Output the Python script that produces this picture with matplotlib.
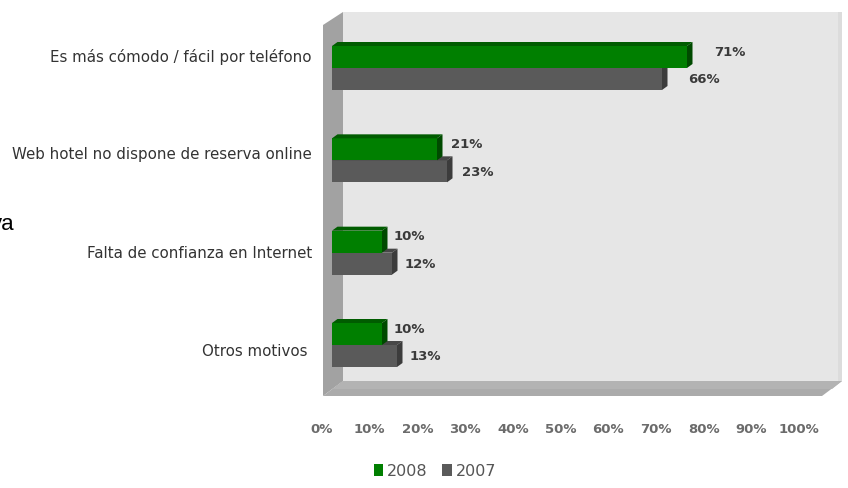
import numpy as np
import matplotlib.pyplot as plt
from matplotlib.patches import Polygon

categorias = ["Es más cómodo / fácil por teléfono",
              "Web hotel no dispone de reserva online",
              "Falta de confianza en Internet",
              "Otros motivos "]
v2008 = [71, 21, 10, 10]
v2007 = [66, 23, 12, 13]
ticks = [0, 10, 20, 30, 40, 50, 60, 70, 80, 90, 100]

W, H = 848, 488
fig = plt.figure(figsize=(W / 100, H / 100), dpi=100)


def rect(x0, y0, x1, y1):
    # pixel box (top-left origin) -> figure fraction
    return [x0 / W, 1 - y1 / H, (x1 - x0) / W, (y1 - y0) / H]


# back wall, side wall and floor of the 3d box
bg = fig.add_axes([0, 0, 1, 1], zorder=-1)
bg.set_xlim(0, W)
bg.set_ylim(H, 0)
bg.axis('off')
bg.add_patch(Polygon([(343, 12), (842, 12), (842, 381), (343, 381)],
                     fc='#e6e6e6', ec='none'))
bg.add_patch(Polygon([(838, 12), (842, 12), (842, 381), (838, 381)],
                     fc='#dcdcdc', ec='none'))
bg.add_patch(Polygon([(323, 25), (343, 12), (343, 381), (323, 396)],
                     fc='#a2a2a2', ec='none'))
bg.add_patch(Polygon([(323, 396), (343, 381), (842, 381), (822, 396)],
                     fc='#ababab', ec='none'))
bg.add_patch(Polygon([(333, 389), (343, 381), (842, 381), (832, 389)],
                     fc='#b3b3b3', ec='none'))

# bars
ax = fig.add_axes(rect(332, 12, 832, 381))
ax.set_xlim(0, 100)
ax.set_ylim(3 + 36 / 92.33, -56 / 92.33)
ax.axis('off')

y = np.arange(len(categorias))
h = 22 / 92.33
dx, dy = 1.1, -4 / 92.33


def bar3d(ys, vals, front, top, side, z):
    bars = ax.barh(ys, vals, height=h, color=front, linewidth=0, zorder=z)
    for yc, v in zip(ys, vals):
        y0, y1 = yc - h / 2, yc + h / 2
        ax.add_patch(Polygon([(0, y0), (v, y0), (v + dx, y0 + dy), (dx, y0 + dy)],
                             fc=top, ec='none', zorder=z, clip_on=False))
        ax.add_patch(Polygon([(v, y0), (v, y1), (v + dx, y1 + dy), (v + dx, y0 + dy)],
                             fc=side, ec='none', zorder=z, clip_on=False))
    return bars


b07 = bar3d(y + h / 2, v2007, '#5a5a5a', '#474747', '#3c3c3c', 2)
b08 = bar3d(y - h / 2, v2008, '#007f00', '#005c00', '#004a00', 3)

for yc, v in zip(y - h / 2, v2008):
    ax.annotate(f'{v}%', (v, yc), xytext=((9 + 0.26 * v) * 0.72, 3.5),
                textcoords='offset points', ha='left', va='center',
                fontsize=9.5, fontweight='bold', color='#3a3a3a')
for yc, v in zip(y + h / 2, v2007):
    ax.annotate(f'{v}%', (v, yc), xytext=((9 + 0.26 * v) * 0.72, -0.7),
                textcoords='offset points', ha='left', va='center',
                fontsize=9.5, fontweight='bold', color='#3a3a3a')

# category and percentage labels on the front plane
lab = fig.add_axes(rect(322, 40, 799, 415), zorder=1)
lab.set_xlim(0, 100)
lab.set_ylim(3 + 65 / 98.33, -15 / 98.33)
lab.patch.set_visible(False)
for s in lab.spines.values():
    s.set_visible(False)
lab.set_xticks(ticks, [f'{t}%' for t in ticks])
lab.set_yticks(y, categorias)
lab.tick_params(length=0)
lab.tick_params(axis='x', pad=5.8, labelsize=9.5, labelcolor='#6b6b6b')
lab.tick_params(axis='y', pad=7.2, labelsize=10.8, labelcolor='#333333')
for t in lab.get_xticklabels():
    t.set_fontweight('bold')

fig.legend(handles=[b08, b07], labels=['2008', '2007'], loc='center',
           bbox_to_anchor=(435 / W, 1 - 471 / H), ncol=2, frameon=False,
           handlelength=0.6, handleheight=0.8, handletextpad=0.25,
           columnspacing=0.9, fontsize=11.5, labelcolor='#555555')

fig.text(15 / W, 1 - 230 / H, 'va', ha='right', va='baseline',
         fontsize=16, family='Liberation Sans', color='black')

plt.savefig("out.png", transparent=False)
